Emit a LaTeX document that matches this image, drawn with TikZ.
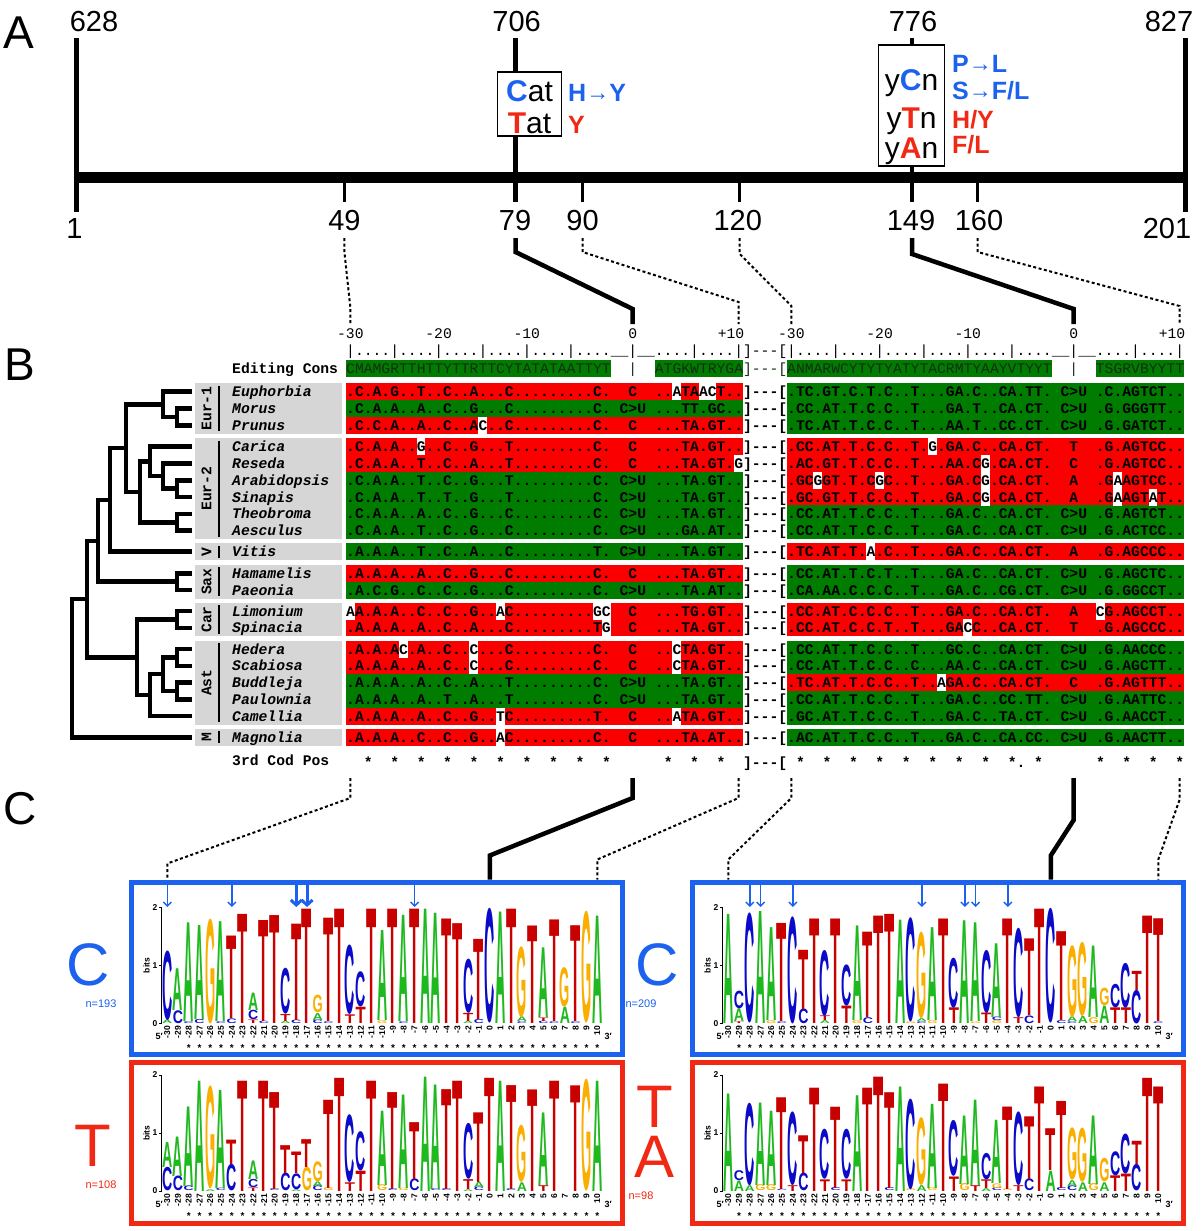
\documentclass[tikz,border=0pt]{standalone}
\usepackage{fontspec}
\usepackage{graphicx}
\setmainfont{Liberation Sans}
\setmonofont{Liberation Mono}
\usetikzlibrary{calc,arrows.meta}
\definecolor{bblue}{RGB}{28,98,238}
\definecolor{rred}{RGB}{240,40,20}
\definecolor{agreen}{RGB}{0,125,0}
\definecolor{ared}{RGB}{250,0,0}
\definecolor{lgrey}{RGB}{214,214,214}
\definecolor{consc}{RGB}{20,45,20}
\definecolor{lgA}{RGB}{30,185,30}
\definecolor{lgC}{RGB}{10,10,200}
\definecolor{lgG}{RGB}{250,175,0}
\definecolor{lgT}{RGB}{200,0,0}
\newcommand\mf{\ttfamily\frenchspacing\fontsize{14.7}{16}\selectfont}
\newcommand\arr{{\mdseries\fontsize{23}{23}\selectfont\raisebox{1pt}{→}}}
\tikzset{
  tree/.style={line width=4.5pt,line cap=rect,line join=miter},
  dotcon/.style={line width=2pt,dash pattern=on 3pt off 2.5pt},
  solcon/.style={line width=4.5pt,line join=miter},
  num/.style={font=\fontsize{29}{29}\selectfont,inner sep=0pt,anchor=base},
  mut/.style={font=\bfseries\fontsize{25}{25}\selectfont,inner sep=0pt,anchor=base west},
  boxtxt/.style={font=\fontsize{30}{30}\selectfont,inner sep=0pt,anchor=base},
  panel/.style={font=\fontsize{46}{46}\selectfont,inner sep=0pt,anchor=base west},
  clade/.style={font=\mf\bfseries,rotate=90,inner sep=0pt},
  taxon/.style={font=\mf\bfseries\itshape,inner sep=0pt,anchor=base west},
  larr/.style={bblue,line width=1.4pt,-{Straight Barb[length=4pt,width=8pt]}},
  barr/.style={bblue,line width=3pt,-{Straight Barb[length=5pt,width=11pt]}},
  poslab/.style={rotate=90,anchor=east,font=\bfseries\fontsize{8.5}{8.5}\selectfont,inner sep=0.5pt},
  axlab/.style={anchor=east,font=\bfseries\fontsize{8.5}{8.5}\selectfont,inner sep=0pt},
  starlab/.style={font=\bfseries\fontsize{10}{10}\selectfont,inner sep=0pt},
  biglet/.style={font=\fontsize{60}{60}\selectfont,inner sep=0pt,anchor=base},
  nlab/.style={font=\fontsize{11}{11}\selectfont,inner sep=0pt,anchor=base}
}
\newcommand\arow[4]{%
  \fill[#3] (346,{#2-8.5}) rectangle (742.9,{#2+8.5});
  \fill[#4] (787,{#2-8.5}) rectangle (1183.9,{#2+8.5});
  \coordinate (#1) at (346,#2);}
\newcommand\wc[2]{\fill[white] ({346+#2*8.82},{#1-8.5}) rectangle ({346+(#2+1)*8.82},{#1+8.5});}
\newcommand\rtxt[3]{\node[anchor=base west,inner sep=0pt,font=\mf\bfseries] (#1) at (346,{#2+5}) {#3};}
\def\lgx{0}\def\lgb{0}
\newcommand\lc[2]{%
  \pgfmathsetmacro\cx{\lgx+(#1+30)*10.75}%
  \xdef\cum{0}%
  \foreach \LL/\HH in {#2}{%
    \pgfmathsetmacro\ybot{\lgb-\cum*58}%
    \pgfmathsetmacro\hpx{\HH*58}%
    \node[inner sep=0pt,outer sep=0pt,anchor=south,text=lg\LL] at (\cx,\ybot) {\resizebox{10.2pt}{\hpx pt}{\bfseries\LL}};%
    \pgfmathsetmacro\nc{\cum+\HH}%
    \xdef\cum{\nc}%
  }%
}
\newcommand\logoframe[3]{% #1 x0, #2 baseline, #3 stars start
  \pgfmathsetmacro\ax{#1-5.8}
  \draw[line width=0.8pt] (\ax,#2) -- (\ax,{#2-116});
  \foreach \b in {0,1,2}{
    \draw[line width=0.8pt] (\ax,{#2-\b*58}) -- ({\ax-3},{#2-\b*58});
    \node[axlab] at ({\ax-4},{#2-\b*58}) {\b};}
  \node[rotate=90,font=\bfseries\fontsize{8.5}{8.5}\selectfont,inner sep=0pt] at ({\ax-15},{#2-58}) {bits};
  \foreach \j in {-30,...,10}{
    \node[poslab] at ({#1+(\j+30)*10.75},{#2+2}) {\j};}
  \node[font=\bfseries\fontsize{9}{9}\selectfont,inner sep=0pt] at ({#1-8},{#2+13}) {5′};
  \node[font=\bfseries\fontsize{9}{9}\selectfont,inner sep=0pt] at ({#1+40*10.75+11},{#2+13}) {3′};
  \foreach \j in {#3,...,10}{
    \node[starlab] at ({#1+(\j+30)*10.75},{#2+25}) {*};}
}
\begin{document}
\begin{tikzpicture}[x=1pt,y=-1pt]
\useasboundingbox (0,0) rectangle (1200,1231);
\fill[white] (0,0) rectangle (1200,1231);

%%%%%%%%%%%%%%%% PANEL A
\node[panel] (pA) at (3,48.3) {A};
\coordinate (p1) at (76.5,177.5);
\coordinate (p201) at (1185.5,177.5);
\draw[line width=11.7pt] ($(p1)+(-2.2,0)$) -- ($(p201)+(2.2,0)$);
\draw[line width=4.5pt] (76.5,38) -- (76.5,211.7);
\draw[line width=4.5pt] (1185.5,38) -- (1185.5,211.7);
\draw[line width=4.5pt] (515.5,38) -- (515.5,201.7);
\draw[line width=4.5pt] (912,38) -- (912,201.7);
\foreach \tx in {344.4,582.5,739.7,977.7}{\draw[line width=2.6pt] (\tx,183) -- (\tx,201.7);}
\node[num] (t628) at (94,31.7) {628};
\node[num] (t706) at (516.6,31.7) {706};
\node[num] (t776) at (913,31.7) {776};
\node[num] (t827) at (1169,31.7) {827};
\node[num] (t1) at (74.5,238) {1};
\node[num] (t49) at (344.4,230) {49};
\node[num] (t79) at (515,230) {79};
\node[num] (t90) at (582.6,230) {90};
\node[num] (t120) at (737.7,230) {120};
\node[num] (t149) at (911,230) {149};
\node[num] (t160) at (979,230) {160};
\node[num] (t201) at (1167,238) {201};
% boxes
\filldraw[fill=white,draw=black,line width=1.6pt] (497.5,72.3) rectangle (561.4,136);
\node[boxtxt] (cat) at (529.5,101.7) {\textbf{\textcolor{bblue}{C}}at};
\node[boxtxt] (tat) at (529.5,133) {\textbf{\textcolor{rred}{T}}at};
\node[mut,text=bblue] (hy) at (568,101.7) {H\arr Y};
\node[mut,text=rred] (yy) at (568,133) {Y};
\filldraw[fill=white,draw=black,line width=1.6pt] (878.6,45) rectangle (944.4,165.7);
\node[boxtxt] (ycn) at (911.5,90) {y\textbf{\textcolor{bblue}{C}}n};
\node[boxtxt] (ytn) at (911.5,128.3) {y\textbf{\textcolor{rred}{T}}n};
\node[boxtxt] (yan) at (911.5,158.3) {y\textbf{\textcolor{rred}{A}}n};
\node[mut,text=bblue] (pl) at (952,72.7) {P\arr L};
\node[mut,text=bblue] (sfl) at (952,99.3) {S\arr F/L};
\node[mut,text=rred] (hyr) at (952,128) {H/Y};
\node[mut,text=rred] (flr) at (952,153.3) {F/L};

% connectors A -> B
\coordinate (c49) at (344.4,238);
\coordinate (c79) at (515.5,238);
\coordinate (c90) at (582.5,238);
\coordinate (c120) at (739.7,238);
\coordinate (c149) at (912,238);
\coordinate (c160) at (977.7,238);
\coordinate (bL30) at (350.4,324);
\coordinate (bL0) at (632.7,324);
\coordinate (bL10) at (738.5,324);
\coordinate (bR30) at (791.4,324);
\coordinate (bR0) at (1073.7,324);
\coordinate (bR10) at (1179.5,324);
\draw[dotcon] (c49) -- ++(0,14) -- ($(bL30)+(0,-16)$) -- (bL30);
\draw[solcon] (c79) -- ++(0,14) -- ($(bL0)+(0,-15)$) -- (bL0);
\draw[dotcon] (c90) -- ++(0,14) -- ($(bL10)+(0,-22)$) -- (bL10);
\draw[dotcon] (c120) -- ++(0,16) -- ($(bR30)+(0,-18)$) -- (bR30);
\draw[solcon] (c149) -- ++(0,16) -- ($(bR0)+(0,-15)$) -- (bR0);
\draw[dotcon] (c160) -- ++(0,14) -- ($(bR10)+(0,-18)$) -- (bR10);

%%%%%%%%%%%%%%%% PANEL B
\node[panel] (pB) at (4.5,380) {B};
% ruler labels
\foreach \lx/\lt in {350.4/-30,438.6/-20,526.8/-10,632.7/0,731/+10,791.4/-30,879.6/-20,967.8/-10,1073.7/0,1172/+10}{
  \node[font=\mf,inner sep=0pt,anchor=base] at (\lx,338) {\lt};}
\node[anchor=base west,inner sep=0pt,font=\mf] (ruler) at (346,355.5) {|....|....|....|....|....|....\_\_|\_\_....|....|]---[|....|....|....|....|....|....\_\_|\_\_....|....|};
% consensus
\fill[agreen] (346,359.8) rectangle (610.6,376.8);
\fill[agreen] (654.7,359.8) rectangle (742.9,376.8);
\fill[agreen] (787,359.8) rectangle (1051.6,376.8);
\fill[agreen] (1095.7,359.8) rectangle (1183.9,376.8);
\node[anchor=base west,inner sep=0pt,font=\mf,text=consc] (cons) at (346,373.3) {CMAMGRTTHTTYTTRTTCYTATATAATTYT~~|~~ATGKWTRYGA]---[ANMARWCYTYTYATYTACRMTYAAYVTYYT~~|~~TSGRVBYYTT};
\node[anchor=base west,inner sep=0pt,font=\mf\bfseries] (edc) at (232,373.3) {Editing Cons};

% grey clade boxes
\foreach \ta/\tb/\tc/\tl in {383.2/433.8/408.5/Eur-1, 438.2/539.2/488.7/Eur-2, 543.2/560.2/551.7/V, 564.8/598.6/581.7/Sax, 602.5/636.3/619.4/Car, 640.5/724.7/682.6/Ast, 728.8/745.8/737.3/M}{
  \fill[lgrey] (195,\ta) rectangle (342,\tb);
  \draw[line width=1.8pt] (219,{\ta+2.5}) -- (219,{\tb-2.5});
  \node[clade] at (206.5,\tc) {\tl};}

% alignment rows: bars
\arow{eu}{391.7}{ared}{agreen}
\arow{mo}{408.5}{agreen}{agreen}
\arow{pr}{425.3}{ared}{agreen}
\arow{ca}{446.7}{ared}{ared}
\arow{re}{463.5}{ared}{ared}
\arow{ar}{480.3}{agreen}{ared}
\arow{si}{497.1}{agreen}{ared}
\arow{th}{513.9}{agreen}{agreen}
\arow{ae}{530.7}{agreen}{agreen}
\arow{vi}{551.7}{agreen}{ared}
\arow{ha}{573.3}{ared}{agreen}
\arow{pa}{590.1}{agreen}{agreen}
\arow{li}{611}{ared}{ared}
\arow{sp}{627.8}{ared}{ared}
\arow{he}{649}{ared}{agreen}
\arow{sc}{665.8}{ared}{agreen}
\arow{bu}{682.6}{agreen}{ared}
\arow{pw}{699.4}{agreen}{agreen}
\arow{cm}{716.2}{ared}{agreen}
\arow{ma}{737.3}{ared}{agreen}
% white cells
\wc{391.7}{37}\wc{391.7}{40}\wc{391.7}{41}
\wc{425.3}{15}
\wc{446.7}{8}\wc{446.7}{66}
\wc{463.5}{44}\wc{463.5}{72}
\wc{480.3}{53}\wc{480.3}{60}\wc{480.3}{72}\wc{480.3}{87}
\wc{497.1}{72}\wc{497.1}{87}\wc{497.1}{91}
\wc{551.7}{59}
\wc{611}{0}\wc{611}{17}\wc{611}{28}\wc{611}{29}\wc{611}{85}
\wc{627.8}{29}\wc{627.8}{70}
\wc{649}{6}\wc{649}{14}\wc{649}{37}
\wc{665.8}{14}\wc{665.8}{37}
\wc{682.6}{67}
\wc{716.2}{17}\wc{716.2}{37}
\wc{737.3}{17}
% row texts
\rtxt{seu}{391.7}{.C.A.G..T..C..A...C.........C.~~C~~..ATAACT..]---[.TC.GT.C.T.C..T...GA.C..CA.TT.~C>U~.C.AGTCT..}
\rtxt{smo}{408.5}{.C.A.A..A..C..G...C.........C.~C>U~...TT.GC..]---[.CC.AT.T.C.C..T...GA.T..CA.CT.~C>U~.G.GGGTT..}
\rtxt{spr}{425.3}{.C.C.A..A..C..AC..C.........C.~~C~~...TA.GT..]---[.TC.AT.T.C.C..T...AA.T..CC.CT.~C>U~.G.GATCT..}
\rtxt{sca}{446.7}{.C.A.A..G..C..G...T.........C.~~C~~...TA.GT..]---[.CC.AT.T.C.C..T.G.GA.C..CA.CT.~~T~~.G.AGTCC..}
\rtxt{sre}{463.5}{.C.A.A..T..C..A...T.........C.~~C~~...TA.GT.G]---[.AC.GT.T.C.C..T...AA.CG.CA.CT.~~C~~.G.AGTCC..}
\rtxt{sar}{480.3}{.C.A.A..T..C..G...T.........C.~C>U~...TA.GT..]---[.GCGGT.T.CGC..T...GA.CG.CA.CT.~~A~~.GAAGTCC..}
\rtxt{ssi}{497.1}{.C.A.A..T..T..G...T.........C.~C>U~...TA.GT..]---[.GC.GT.T.C.C..T...GA.CG.CA.CT.~~A~~.GAAGTAT..}
\rtxt{sth}{513.9}{.C.A.A..A..C..G...C.........C.~C>U~...TA.GT..]---[.CC.AT.T.C.C..T...GA.C..CA.CT.~C>U~.G.AGTCT..}
\rtxt{sae}{530.7}{.C.A.A..T..C..G...C.........C.~C>U~...GA.AT..]---[.CC.AT.T.C.C..T...GA.C..CA.CT.~C>U~.G.ACTCC..}
\rtxt{svi}{551.7}{.A.A.A..T..C..A...C.........T.~C>U~...TA.GT..]---[.TC.AT.T.A.C..T...GA.C..CA.CT.~~A~~.G.AGCCC..}
\rtxt{sha}{573.3}{.A.A.A..A..C..G...C.........C.~~C~~...TA.GT..]---[.CC.AT.T.C.T..T...GA.C..CA.CT.~C>U~.G.AGCTC..}
\rtxt{spa}{590.1}{.A.C.G..C..C..G...C.........C.~C>U~...TA.AT..]---[.CA.AA.C.C.C..T...GA.C..CG.CT.~C>U~.G.GGCCT..}
\rtxt{sli}{611}{AA.A.A..C..C..G..AC.........GC~~C~~...TG.GT..]---[.CC.AT.C.C.C..T...GA.C..CA.CT.~~A~~CG.AGCCT..}
\rtxt{ssp}{627.8}{.A.A.A..A..C..A...C.........TG~~C~~...TA.GT..]---[.CC.AT.C.C.T..T...GACC..CA.CT.~~T~~.G.AGCCC..}
\rtxt{she}{649}{.A.A.AC.A..C..C...C.........C.~~C~~..CTA.GT..]---[.CC.AT.T.C.C..T...GC.C..CA.CT.~C>U~.G.AACCC..}
\rtxt{ssc}{665.8}{.A.A.A..A..C..C...C.........C.~~C~~..CTA.GT..]---[.CC.AT.T.C.C..C...AA.C..CA.CT.~C>U~.G.AGCTT..}
\rtxt{sbu}{682.6}{.A.A.A..A..C..A...T.........C.~C>U~...TA.GT..]---[.TC.AT.T.C.C..T..AGA.C..CA.CT.~~C~~.G.AGTTT..}
\rtxt{spw}{699.4}{.A.A.A..A..T..A...T.........C.~C>U~...TA.GT..]---[.CC.AT.T.C.C..T...GA.C..CC.TT.~C>U~.G.AATTC..}
\rtxt{scm}{716.2}{.A.A.A..A..C..G..TC.........T.~~C~~..ATA.GT..]---[.GC.AT.T.C.C..T...GA.C..TA.CT.~C>U~.G.AACCT..}
\rtxt{sma}{737.3}{.A.A.A..C..C..G..AC.........C.~~C~~...TA.AT..]---[.AC.AT.T.C.C..T...GA.C..CA.CC.~C>U~.G.AACTT..}
\node[anchor=base west,inner sep=0pt,font=\mf\bfseries] (cod) at (346,767) {~~*~~*~~*~~*~~*~~*~~*~~*~~*~~*~~~~~~*~~*~~*~~]---[~*~~*~~*~~*~~*~~*~~*~~*~~*.~*~~~~~~*~~*~~*~~*};
\node[anchor=base west,inner sep=0pt,font=\mf\bfseries] (codl) at (232,765) {3rd Cod Pos};
% taxon names
\foreach \nm/\ny in {Euphorbia/391.7,Morus/408.5,Prunus/425.3,Carica/446.7,Reseda/463.5,Arabidopsis/480.3,Sinapis/497.1,Theobroma/513.9,Aesculus/530.7,Vitis/551.7,Hamamelis/573.3,Paeonia/590.1,Limonium/611,Spinacia/627.8,Hedera/649,Scabiosa/665.8,Buddleja/682.6,Paulownia/699.4,Camellia/716.2,Magnolia/737.3}{
  \node[taxon] (name-\nm) at (232,{\ny+5}) {\nm};}

% tree
\foreach \tn/\ty in {Eu/391.7,Mo/408.5,Pr/425.3,Ca/446.7,Re/463.5,Ar/480.3,Si/497.1,Th/513.9,Ae/530.7,Vi/551.7,Ha/573.3,Pa/590.1,Li/611,Sp/627.8,He/649,Sc/665.8,Bu/682.6,Pw/699.4,Cm/716.2,Ma/737.3}{
  \coordinate (t\tn) at (190,\ty);}
\coordinate (n1) at (177,416.9);
\coordinate (n2) at (163,404.3);
\coordinate (n3) at (177,488.7);
\coordinate (n4) at (163,476.1);
\coordinate (n5) at (150,461.4);
\coordinate (n6) at (177,522.3);
\coordinate (n7) at (140,491.85);
\coordinate (n8) at (126,448.1);
\coordinate (n9) at (110,499.9);
\coordinate (n10) at (177,581.7);
\coordinate (n11) at (98,540.8);
\coordinate (n12) at (177,619.4);
\coordinate (n13) at (177,657.4);
\coordinate (n14) at (177,691);
\coordinate (n15) at (163,674.2);
\coordinate (n16) at (150,695.2);
\coordinate (n17) at (137,657.3);
\coordinate (n18) at (87,599);
\coordinate (root) at (72,668.2);
\draw[tree] (tMo) -| (n1) |- (tPr);
\draw[tree] (tEu) -| (n2) |- (n1);
\draw[tree] (tAr) -| (n3) |- (tSi);
\draw[tree] (tRe) -| (n4) |- (n3);
\draw[tree] (tCa) -| (n5) |- (n4);
\draw[tree] (tTh) -| (n6) |- (tAe);
\draw[tree] (n5) -| (n7) |- (n6);
\draw[tree] (n2) -| (n8) |- (n7);
\draw[tree] (n8) -| (n9) |- (tVi);
\draw[tree] (tHa) -| (n10) |- (tPa);
\draw[tree] (n9) -| (n11) |- (n10);
\draw[tree] (tLi) -| (n12) |- (tSp);
\draw[tree] (tHe) -| (n13) |- (tSc);
\draw[tree] (tBu) -| (n14) |- (tPw);
\draw[tree] (n13) -| (n15) |- (n14);
\draw[tree] (n15) -| (n16) |- (tCm);
\draw[tree] (n12) -| (n17) |- (n16);
\draw[tree] (n11) -| (n18) |- (n17);
\draw[tree] (n18) -| (root) |- (tMa);

% connectors B -> C
\coordinate (sL30) at (350.4,778);
\coordinate (sL0) at (632.7,778);
\coordinate (sL10) at (738.5,778);
\coordinate (sR30) at (791.4,778);
\coordinate (sR0) at (1073.7,778);
\coordinate (sR10) at (1179.5,778);
\coordinate (gL30) at (167.3,879.5);
\coordinate (gL0) at (489.8,879.5);
\coordinate (gL10) at (597.3,879.5);
\coordinate (gR30) at (728.3,879.5);
\coordinate (gR0) at (1050.8,879.5);
\coordinate (gR10) at (1158.3,879.5);
\draw[dotcon] (sL30) -- ++(0,20) -- ($(gL30)+(0,-16)$) -- (gL30);
\draw[solcon] (sL0) -- ++(0,20) -- ($(gL0)+(0,-24)$) -- (gL0);
\draw[dotcon] (sL10) -- ++(0,20) -- ($(gL10)+(0,-20)$) -- (gL10);
\draw[dotcon] (sR30) -- ++(0,20) -- ($(gR30)+(0,-20)$) -- (gR30);
\draw[solcon] (sR0) -- ++(0,42) -- ($(gR0)+(0,-24)$) -- (gR0);
\draw[dotcon] (sR10) -- ++(0,22) -- ($(gR10)+(0,-20)$) -- (gR10);

%%%%%%%%%%%%%%%% PANEL C
\node[panel] (pC) at (3,824) {C};
\draw[bblue,line width=5pt] (131.5,882) rectangle (622,1054.5);
\draw[bblue,line width=5pt] (692.5,882) rectangle (1183,1054.5);
\draw[rred,line width=5pt] (131.5,1062.5) rectangle (622,1223.5);
\draw[rred,line width=5pt] (692.5,1062.5) rectangle (1183,1223.5);
\node[biglet,text=bblue] (lC1) at (88,985) {C};
\node[nlab,text=bblue] (n193) at (101,1007) {n=193};
\node[biglet,text=bblue] (lC2) at (657,985) {C};
\node[nlab,text=bblue] (n209) at (641,1007) {n=209};
\node[biglet,text=rred] (lT1) at (93,1166) {T};
\node[nlab,text=rred] (n108) at (101,1188) {n=108};
\node[biglet,text=rred,align=center,font=\fontsize{60}{50}\selectfont] (lTA2) at (655,1177) {T\\A};
\node[nlab,text=rred] (n98) at (641,1199) {n=98};

% arrows
\foreach \j in {-30,-24,-7}{\draw[larr] ({167.3+(\j+30)*10.75},884.5) -- ({167.3+(\j+30)*10.75},907);}
\foreach \j in {-18,-17}{\draw[barr] ({167.3+(\j+30)*10.75},884.5) -- ({167.3+(\j+30)*10.75},907);}
\foreach \j in {-28,-27,-24,-12,-8,-7,-4}{\draw[larr] ({728.3+(\j+30)*10.75},884.5) -- ({728.3+(\j+30)*10.75},907);}

\logoframe{167.3}{1023.5}{-28}
\logoframe{728.3}{1023.5}{-29}
\logoframe{167.3}{1191}{-28}
\logoframe{728.3}{1191}{-29}

% logo 1
\def\lgx{167.3}\def\lgb{1023.5}
\lc{-30}{A/0.06,C/1.18}
\lc{-29}{C/0.22,A/0.72}
\lc{-28}{C/0.03,A/1.7}
\lc{-27}{C/0.07,A/1.62}
\lc{-26}{G/1.78}
\lc{-25}{C/0.03,A/1.72}
\lc{-24}{C/0.08,T/1.42}
\lc{-23}{T/1.88}
\lc{-22}{T/0.06,C/0.16,A/0.3}
\lc{-21}{C/0.04,T/1.74}
\lc{-20}{T/1.86}
\lc{-19}{A/0.04,T/0.12,C/0.78}
\lc{-18}{C/0.06,T/1.66}
\lc{-17}{T/1.97}
\lc{-16}{C/0.06,A/0.12,G/0.3}
\lc{-15}{C/0.03,T/1.78}
\lc{-14}{T/1.97}
\lc{-13}{T/0.15,C/1.18}
\lc{-12}{T/0.28,C/0.6}
\lc{-11}{T/1.97}
\lc{-10}{G/0.05,A/1.55}
\lc{-9}{T/1.97}
\lc{-8}{C/0.03,A/1.83}
\lc{-7}{T/1.97}
\lc{-6}{A/1.97}
\lc{-5}{A/1.9}
\lc{-4}{T/1.8}
\lc{-3}{T/1.72}
\lc{-2}{A/0.04,T/0.14,C/0.92}
\lc{-1}{C/0.07,T/1.38}
\lc{0}{C/1.95}
\lc{1}{A/1.92}
\lc{2}{T/1.97}
\lc{3}{C/0.03,A/0.08,G/1.2}
\lc{4}{T/1.68}
\lc{5}{C/0.04,T/0.06,A/1.2}
\lc{6}{C/0.03,T/1.75}
\lc{7}{A/0.28,G/0.67}
\lc{8}{C/0.03,T/1.65}
\lc{9}{G/1.9}
\lc{10}{A/1.85}

% logo 2
\def\lgx{728.3}\def\lgb{1023.5}
\lc{-30}{A/1.88}
\lc{-29}{T/0.03,A/0.22,C/0.3}
\lc{-28}{C/1.87}
\lc{-27}{A/1.93}
\lc{-26}{G/0.05,A/1.6}
\lc{-25}{C/0.03,T/1.69}
\lc{-24}{C/1.82}
\lc{-23}{C/0.25,T/1.02}
\lc{-22}{T/1.8}
\lc{-21}{A/0.05,T/0.08,C/1.12}
\lc{-20}{T/1.8}
\lc{-19}{T/0.3,C/0.7}
\lc{-18}{G/0.05,A/1.63}
\lc{-17}{C/0.1,T/1.47}
\lc{-16}{T/1.85}
\lc{-15}{T/1.88}
\lc{-14}{A/1.78}
\lc{-13}{G/0.03,C/1.77}
\lc{-12}{C/0.03,A/0.05,G/1.47}
\lc{-11}{G/0.05,A/1.6}
\lc{-10}{T/1.8}
\lc{-9}{T/0.27,C/0.85}
\lc{-8}{A/1.77}
\lc{-7}{G/0.03,A/1.7}
\lc{-6}{T/0.18,C/1.07}
\lc{-5}{G/0.05,C/0.06,A/1.27}
\lc{-4}{T/1.8}
\lc{-3}{T/0.1,C/1.52}
\lc{-2}{C/0.13,T/1.32}
\lc{-1}{T/1.97}
\lc{0}{C/1.95}
\lc{1}{C/0.05,T/1.53}
\lc{2}{C/0.03,A/0.08,G/1.22}
\lc{3}{A/0.12,G/1.26}
\lc{4}{G/0.1,A/1.23}
\lc{5}{A/0.3,G/0.3}
\lc{6}{T/0.27,C/0.4}
\lc{7}{T/0.27,C/0.76}
\lc{8}{C/0.57,T/0.33}
\lc{9}{T/1.85}
\lc{10}{C/0.03,T/1.77}

% logo 3
\def\lgx{167.3}\def\lgb{1191}
\lc{-30}{C/0.4,A/0.43}
\lc{-29}{C/0.25,A/0.68}
\lc{-28}{C/0.08,A/1.37}
\lc{-27}{A/1.9}
\lc{-26}{A/0.03,G/1.75}
\lc{-25}{C/0.04,A/1.69}
\lc{-24}{C/0.45,T/0.42}
\lc{-23}{T/1.9}
\lc{-22}{T/0.06,C/0.14,A/0.32}
\lc{-21}{T/1.9}
\lc{-20}{C/0.03,T/1.67}
\lc{-19}{C/0.3,T/0.48}
\lc{-18}{A/0.03,C/0.27,T/0.37}
\lc{-17}{G/0.4,T/0.48}
\lc{-16}{C/0.08,A/0.08,G/0.34}
\lc{-15}{G/0.05,T/1.52}
\lc{-14}{T/1.95}
\lc{-13}{T/0.15,C/1.15}
\lc{-12}{T/0.35,C/0.67}
\lc{-11}{T/1.9}
\lc{-10}{G/0.1,A/1.28}
\lc{-9}{C/0.03,T/1.67}
\lc{-8}{G/0.04,A/1.61}
\lc{-7}{C/0.2,T/0.98}
\lc{-6}{A/1.97}
\lc{-5}{C/0.03,A/1.8}
\lc{-4}{C/0.03,T/1.72}
\lc{-3}{T/1.9}
\lc{-2}{A/0.03,T/0.17,C/0.95}
\lc{-1}{C/0.06,A/0.09,T/1.2}
\lc{0}{T/1.95}
\lc{1}{A/1.9}
\lc{2}{C/0.03,T/1.79}
\lc{3}{A/0.15,G/0.97}
\lc{4}{T/1.75}
\lc{5}{T/0.1,A/1.25}
\lc{6}{T/1.9}
\lc{8}{T/1.82}
\lc{9}{G/1.9}
\lc{10}{A/1.9}

% logo 4
\def\lgx{728.3}\def\lgb{1191}
\lc{-30}{A/1.68}
\lc{-29}{A/0.18,C/0.17}
\lc{-28}{A/0.1,C/1.4}
\lc{-27}{G/0.1,A/1.42}
\lc{-26}{G/0.1,A/1.28}
\lc{-25}{C/0.02,T/1.58}
\lc{-24}{T/0.1,C/1.25}
\lc{-23}{C/0.3,T/0.65}
\lc{-22}{T/1.78}
\lc{-21}{T/0.2,C/0.85}
\lc{-20}{C/0.05,T/1.4}
\lc{-19}{T/0.2,C/0.85}
\lc{-18}{A/1.65}
\lc{-17}{T/1.78}
\lc{-16}{T/1.97}
\lc{-15}{C/0.05,T/1.65}
\lc{-14}{A/1.8}
\lc{-13}{G/0.03,C/1.54}
\lc{-12}{A/0.1,G/1.15}
\lc{-11}{G/0.05,A/1.45}
\lc{-10}{T/1.85}
\lc{-9}{T/0.25,C/0.95}
\lc{-8}{G/0.12,A/1.18}
\lc{-7}{T/0.1,A/1.47}
\lc{-6}{A/0.05,T/0.15,C/0.45}
\lc{-5}{C/0.05,G/0.08,A/1.09}
\lc{-4}{G/0.03,T/1.42}
\lc{-3}{T/0.1,C/1.25}
\lc{-2}{C/0.2,T/1.08}
\lc{-1}{T/1.8}
\lc{0}{A/0.35,T/0.72}
\lc{1}{C/0.05,T/1.5}
\lc{2}{C/0.08,A/0.1,G/0.89}
\lc{3}{A/0.15,G/0.92}
\lc{4}{G/0.12,A/1.18}
\lc{5}{A/0.15,G/0.4}
\lc{6}{T/0.27,C/0.41}
\lc{7}{T/0.3,C/0.68}
\lc{8}{C/0.45,T/0.4}
\lc{9}{T/1.95}
\lc{10}{T/1.8}
\end{tikzpicture}
\end{document}
